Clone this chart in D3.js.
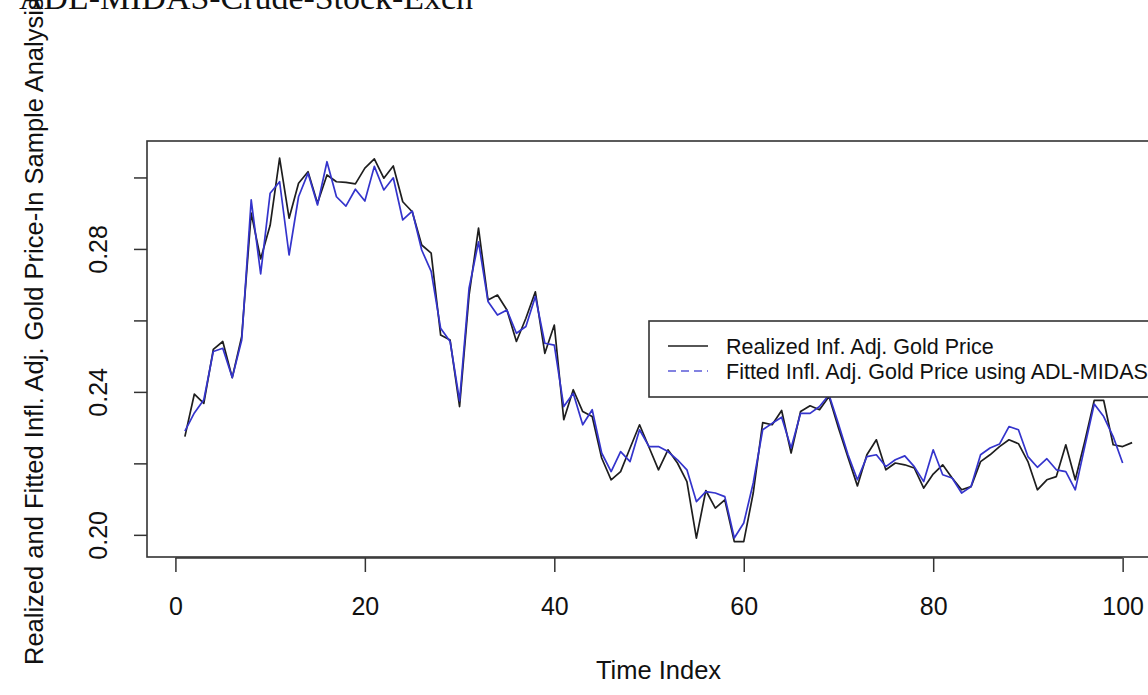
<!DOCTYPE html>
<html>
<head>
<meta charset="utf-8">
<script src="https://cdn.jsdelivr.net/npm/d3@7"></script>
<style>
  html, body { margin: 0; padding: 0; background: #ffffff; overflow: hidden; }
  svg { display: block; }
  text { font-family: "Liberation Sans", Arial, sans-serif; fill: #111; }
</style>
</head>
<body>
<svg id="chart" width="1148" height="695"></svg>
<script>
// Realized inflation-adjusted gold price, time index 1..101
const realized = [
  0.2275, 0.2394, 0.2368, 0.2519, 0.2541, 0.2440, 0.2555, 0.2900, 0.2772, 0.2866,
  0.3054, 0.2886, 0.2984, 0.3016, 0.2928, 0.3007, 0.2988, 0.2986, 0.2982, 0.3026,
  0.3052, 0.2998, 0.3032, 0.2932, 0.2904, 0.2811, 0.2788, 0.2559, 0.2545, 0.2359,
  0.2670, 0.2858, 0.2657, 0.2671, 0.2629, 0.2541, 0.2606, 0.2680, 0.2508, 0.2587,
  0.2322, 0.2406, 0.2345, 0.2331, 0.2215, 0.2154, 0.2177, 0.2243, 0.2308, 0.2245,
  0.2182, 0.2238, 0.2201, 0.2149, 0.1991, 0.2124, 0.2075, 0.2098, 0.1981, 0.1981,
  0.2117, 0.2314, 0.2308, 0.2348, 0.2229, 0.2345, 0.2361, 0.2350, 0.2387, 0.2299,
  0.2217, 0.2137, 0.2224, 0.2266, 0.2182, 0.2201, 0.2196, 0.2187, 0.2131, 0.2170,
  0.2196, 0.2159, 0.2126, 0.2135, 0.2205, 0.2224, 0.2247, 0.2266, 0.2255, 0.2205,
  0.2126, 0.2154, 0.2163, 0.2252, 0.2154, 0.2261, 0.2376, 0.2376, 0.2252, 0.2247,
  0.2258
];

// Fitted values from the ADL-MIDAS model, time index 1..100
const fitted = [
  0.2290, 0.2341, 0.2378, 0.2513, 0.2522, 0.2440, 0.2545, 0.2937, 0.2730, 0.2956,
  0.2988, 0.2783, 0.2946, 0.3012, 0.2923, 0.3044, 0.2946, 0.2920, 0.2967, 0.2934,
  0.3031, 0.2965, 0.2999, 0.2881, 0.2906, 0.2797, 0.2737, 0.2578, 0.2541, 0.2375,
  0.2690, 0.2820, 0.2653, 0.2615, 0.2629, 0.2564, 0.2583, 0.2667, 0.2536, 0.2531,
  0.2359, 0.2396, 0.2308, 0.2350, 0.2229, 0.2177, 0.2233, 0.2205, 0.2294, 0.2247,
  0.2247, 0.2233, 0.2210, 0.2182, 0.2093, 0.2121, 0.2117, 0.2107, 0.1991, 0.2033,
  0.2145, 0.2294, 0.2312, 0.2329, 0.2243, 0.2340, 0.2340, 0.2359, 0.2392, 0.2310,
  0.2225, 0.2154, 0.2219, 0.2224, 0.2191, 0.2210, 0.2221, 0.2191, 0.2149, 0.2238,
  0.2168, 0.2159, 0.2117, 0.2135, 0.2224, 0.2243, 0.2254, 0.2303, 0.2294, 0.2219,
  0.2189, 0.2213, 0.2182, 0.2177, 0.2126, 0.2247, 0.2366, 0.2331, 0.2275, 0.2201
];

const xTicks = [0, 20, 40, 60, 80, 100];
const yTicks = [0.20, 0.22, 0.24, 0.26, 0.28, 0.30];
const yTickLabels = ["0.20", "", "0.24", "", "0.28", ""];

const titleText = "ADL-MIDAS-Crude-Stock-Exch";
const xLabel = "Time Index";
const yLabel = "Realized and Fitted Infl. Adj. Gold Price-In Sample Analysis";
const seriesNames = ["Realized Inf. Adj. Gold Price", "Fitted Infl. Adj. Gold Price using ADL-MIDAS"];

const svg = d3.select("#chart");

// plot region
const box = { left: 147, top: 141, right: 1170, bottom: 557 };
const x = d3.scaleLinear().domain([-3, 105]).range([box.left, box.right]);
const y = d3.scaleLinear().domain([0.1938, 0.3102]).range([box.bottom, box.top]);

const line = d3.line()
  .x((d, i) => x(i + 1))
  .y(d => y(d));

svg.append("path")
  .datum(realized)
  .attr("d", line)
  .attr("fill", "none")
  .attr("stroke", "#1e1e1e")
  .attr("stroke-width", 1.7)
  .attr("stroke-linejoin", "round");

svg.append("path")
  .datum(fitted)
  .attr("d", line)
  .attr("fill", "none")
  .attr("stroke", "#3434cc")
  .attr("stroke-width", 1.7)
  .attr("stroke-linejoin", "round");

// frame around the plotting area
svg.append("rect")
  .attr("x", box.left).attr("y", box.top)
  .attr("width", box.right - box.left).attr("height", box.bottom - box.top)
  .attr("fill", "none").attr("stroke", "#333").attr("stroke-width", 1.6);

// bottom axis
const gx = svg.append("g")
  .attr("transform", `translate(0,${box.bottom + 1})`)
  .call(d3.axisBottom(x).tickValues(xTicks).tickFormat(d3.format("d"))
    .tickSize(14).tickPadding(25));
gx.select(".domain").remove();
gx.selectAll(".tick line").attr("stroke", "#333").attr("stroke-width", 1.5);
gx.selectAll(".tick text").attr("font-size", 25).attr("fill", "#111")
  .style("font-family", "'Liberation Sans', Arial, sans-serif");
gx.append("line")
  .attr("x1", x(xTicks[0])).attr("x2", x(xTicks[xTicks.length - 1]))
  .attr("y1", 0).attr("y2", 0)
  .attr("stroke", "#333").attr("stroke-width", 1.5);

// left axis, labels parallel to the axis
const gy = svg.append("g")
  .attr("transform", `translate(${box.left},0)`)
  .call(d3.axisLeft(y).tickValues(yTicks).tickFormat((d, i) => yTickLabels[i])
    .tickSize(13));
gy.select(".domain").remove();
gy.selectAll(".tick line").attr("stroke", "#333").attr("stroke-width", 1.5);
gy.selectAll(".tick text")
  .attr("x", 0).attr("y", -40).attr("dy", null)
  .attr("text-anchor", "middle")
  .attr("transform", "rotate(-90)")
  .attr("font-size", 25).attr("fill", "#111")
  .style("font-family", "'Liberation Sans', Arial, sans-serif");

// axis titles
svg.append("text")
  .attr("x", (box.left + box.right) / 2).attr("y", 679)
  .attr("text-anchor", "middle").attr("font-size", 25.5)
  .text(xLabel);

svg.append("text")
  .attr("transform", "translate(43,665) rotate(-90)")
  .attr("text-anchor", "start").attr("font-size", 25.5)
  .text(yLabel);

// main title
svg.append("text")
  .attr("x", 19).attr("y", 9)
  .attr("font-size", 34)
  .attr("textLength", 454).attr("lengthAdjust", "spacingAndGlyphs")
  .style("font-family", "'Liberation Serif', 'Times New Roman', serif")
  .text(titleText);

// legend
const legend = svg.append("g");
legend.append("rect")
  .attr("x", 649).attr("y", 321).attr("width", 540).attr("height", 76)
  .attr("fill", "#fff").attr("stroke", "#333").attr("stroke-width", 1.6);

const legendRows = [
  { name: seriesNames[0], color: "#1e1e1e", dash: null, cy: 346 },
  { name: seriesNames[1], color: "#5a5ad8", dash: "8,5", cy: 371 }
];
legendRows.forEach(r => {
  legend.append("line")
    .attr("x1", 668).attr("x2", 708).attr("y1", r.cy).attr("y2", r.cy)
    .attr("stroke", r.color).attr("stroke-width", 1.6)
    .attr("stroke-dasharray", r.dash);
  legend.append("text")
    .attr("x", 726).attr("y", r.cy + 7.5)
    .attr("font-size", 21.5)
    .text(r.name);
});
</script>
</body>
</html>
